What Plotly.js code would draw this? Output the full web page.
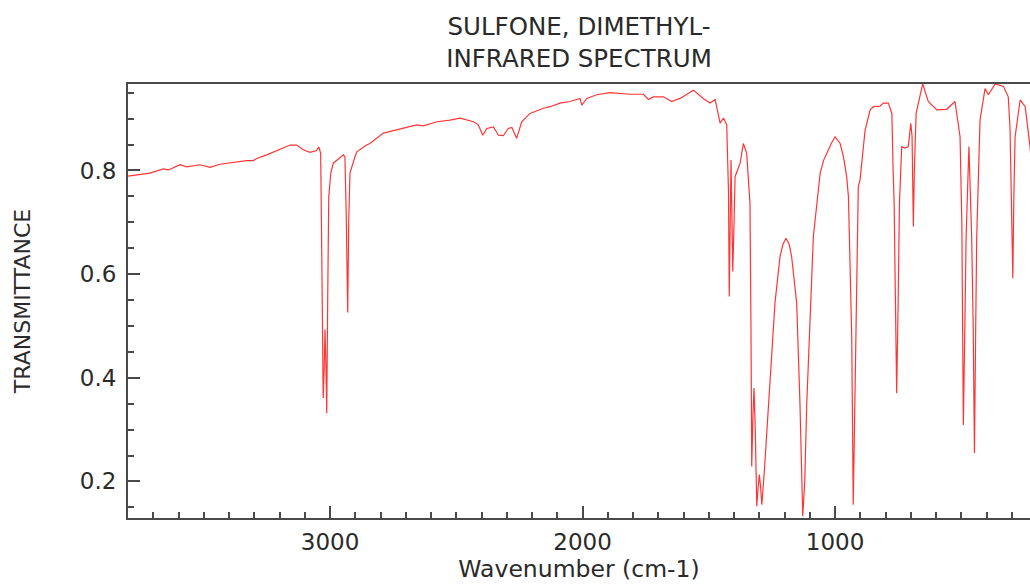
<!DOCTYPE html>
<html>
<head>
<meta charset="utf-8">
<script src="https://cdn.plot.ly/plotly-3.0.1.min.js"></script>
<style>html,body{margin:0;padding:0;background:#fff;}#chart{width:1030px;height:585px;}</style>
</head>
<body>
<div id="chart"></div>
<script>
// Wavenumber (cm-1) and transmittance
const wavenumber = [
  3800, 3713, 3660, 3640, 3594, 3568, 3515, 3475, 3436, 3370, 3330, 3304, 3290, 3251, 3198, 3158, 3132, 3106, 3079, 3055, 3044, 3037,
  3034, 3030, 3027, 3023, 3020, 3016, 3013, 3009, 3005, 2997, 2987, 2947, 2941, 2936, 2930, 2926, 2921, 2901, 2894, 2855, 2842,
  2789, 2736, 2657, 2630, 2577, 2525, 2485, 2432, 2413, 2395, 2379, 2353, 2333, 2314, 2294, 2280, 2261, 2241, 2208, 2155, 2129,
  2089, 2050, 2010, 2003, 1983, 1944, 1891, 1812, 1759, 1739, 1720, 1680, 1647, 1614, 1561, 1522, 1495, 1475, 1455, 1442, 1429,
  1422, 1419, 1415, 1412, 1408, 1405, 1400, 1396, 1376, 1363, 1350, 1337, 1333, 1330, 1325, 1321, 1316, 1310, 1306, 1300, 1295, 1290,
  1280, 1264, 1250, 1238, 1218, 1206, 1194, 1182, 1172, 1152, 1139, 1128, 1120, 1112, 1086, 1070, 1059, 1045, 1033, 1015, 1000, 980, 967, 954, 947, 940, 934, 928,
  921, 914, 908, 901, 881, 861, 848, 822, 809, 789, 775, 770, 766, 761, 756, 750, 745, 736, 723, 710, 700, 695, 692, 690, 686, 679,
  653, 631, 597, 558, 525, 505, 498, 492, 486, 481, 470, 459, 453, 448, 443, 439, 426, 406, 393, 366, 333, 314, 307, 304, 300, 296,
  292, 287, 267, 247, 228, 220
];
const transmittance = [
  0.789, 0.795, 0.803, 0.801, 0.811, 0.807, 0.811, 0.806, 0.812, 0.817, 0.819, 0.819, 0.823, 0.830, 0.840, 0.849, 0.849, 0.840, 0.835, 0.838, 0.845, 0.833,
  0.700, 0.450, 0.361, 0.420, 0.493, 0.420, 0.332, 0.560, 0.749, 0.795, 0.814, 0.830, 0.826, 0.720, 0.526, 0.700, 0.795, 0.827, 0.836, 0.849, 0.852,
  0.872, 0.878, 0.888, 0.886, 0.894, 0.897, 0.901, 0.894, 0.888, 0.868, 0.881, 0.884, 0.868, 0.867, 0.881, 0.883, 0.862, 0.894, 0.910, 0.920, 0.923,
  0.930, 0.933, 0.939, 0.926, 0.939, 0.946, 0.950, 0.947, 0.947, 0.937, 0.942, 0.942, 0.933, 0.939, 0.955, 0.939, 0.930, 0.937, 0.891, 0.901, 0.888,
  0.760, 0.557, 0.700, 0.820, 0.700, 0.605, 0.700, 0.788, 0.814, 0.852, 0.833, 0.737, 0.500, 0.229, 0.330, 0.380, 0.300, 0.152, 0.180, 0.213, 0.190, 0.155,
  0.220, 0.351, 0.460, 0.544, 0.634, 0.658, 0.669, 0.658, 0.634, 0.544, 0.351, 0.133, 0.200, 0.351, 0.672, 0.750, 0.795, 0.820, 0.833, 0.852, 0.865, 0.852, 0.827, 0.788, 0.749, 0.600, 0.480, 0.155,
  0.350, 0.544, 0.769, 0.782, 0.878, 0.917, 0.923, 0.924, 0.930, 0.930, 0.910, 0.800, 0.737, 0.550, 0.370, 0.550, 0.737, 0.846, 0.843, 0.846, 0.891, 0.865, 0.780, 0.692, 0.800, 0.910,
  0.967, 0.933, 0.917, 0.918, 0.933, 0.865, 0.700, 0.309, 0.500, 0.672, 0.846, 0.672, 0.500, 0.255, 0.500, 0.672, 0.897, 0.958, 0.946, 0.967, 0.962, 0.942, 0.880, 0.801, 0.700, 0.592,
  0.750, 0.865, 0.936, 0.923, 0.846, 0.800
];
const xTickVals = [3000, 2000, 1000];
const yTickVals = [0.2, 0.4, 0.6, 0.8];
const chartTitle = "SULFONE, DIMETHYL-<br>INFRARED SPECTRUM";
const xLabel = "Wavenumber (cm-1)";
const yLabel = "TRANSMITTANCE";

const axisColor = "#4a4a4a";
const trace = {
  x: wavenumber, y: transmittance, type: "scatter", mode: "lines",
  line: {color: "#ff3535", width: 1.2}, hoverinfo: "skip"
};
const layout = {
  width: 1030, height: 585,
  margin: {l: 128, r: 0, t: 84, b: 67, pad: 0},
  paper_bgcolor: "#fff", plot_bgcolor: "#fff",
  font: {family: "DejaVu Sans, sans-serif", size: 23, color: "#2a2a2a"},
  showlegend: false,
  title: {text: chartTitle, font: {size: 24.5, color: "#2a2a2a"}, x: 0.5, xref: "paper", xanchor: "center",
          y: 1 - 35/585, yref: "container", yanchor: "top"},
  xaxis: {
    range: [3800, 228], tickvals: xTickVals, ticktext: xTickVals.map(String),
    ticks: "inside", ticklen: 12, tickwidth: 2, tickcolor: axisColor,
    minor: {dtick: 100, tick0: 0, ticks: "inside", ticklen: 6, tickwidth: 2, tickcolor: axisColor, showgrid: false},
    showline: true, linecolor: axisColor, linewidth: 2, mirror: true,
    showgrid: false, zeroline: false, ticklabelstandoff: 2,
    title: {text: xLabel, standoff: 3, font: {size: 23.5}}
  },
  yaxis: {
    range: [0.1294, 0.9668], tickvals: yTickVals, ticktext: yTickVals.map(v => v.toFixed(1)),
    ticks: "inside", ticklen: 12, tickwidth: 2, tickcolor: axisColor,
    minor: {dtick: 0.05, tick0: 0, ticks: "inside", ticklen: 6, tickwidth: 2, tickcolor: axisColor, showgrid: false},
    showline: true, linecolor: axisColor, linewidth: 2, mirror: false,
    showgrid: false, zeroline: false, ticklabelstandoff: 5,
    title: {text: yLabel, standoff: 43, font: {size: 22}}
  }
};
Plotly.newPlot("chart", [trace], layout, {staticPlot: true, displayModeBar: false});
</script>
</body>
</html>
